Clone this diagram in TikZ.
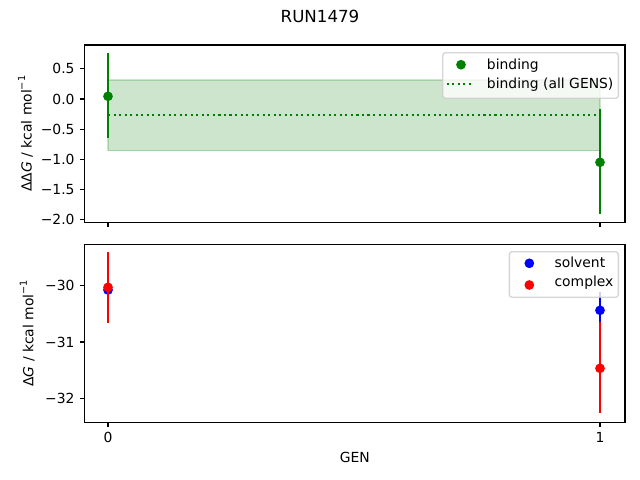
\documentclass[tikz,border=0pt]{standalone}
\usepackage{fontspec}
\setmainfont{DejaVu Sans}
\definecolor{mplgreen}{rgb}{0,0.5,0}
\definecolor{mplblue}{rgb}{0,0,1}
\definecolor{mplred}{rgb}{1,0,0}
\definecolor{legedge}{rgb}{0.8,0.8,0.8}
\newcommand{\supm}{\raisebox{0.85ex}{\fontsize{7}{8}\selectfont −1}}
\begin{document}
\begin{tikzpicture}[x=0.72pt,y=-0.72pt,
  spine/.style={line width=0.8pt, draw=black},
  tickmark/.style={line width=0.8pt},
  ticklab/.style={font=\fontsize{10}{12}\selectfont, inner sep=0pt},
  ebar/.style={line width=1.5pt},
  dot/.style={circle, inner sep=0pt, minimum size=7pt},
  legbox/.style={draw=legedge, draw opacity=0.8, fill=white, fill opacity=0.8, line width=1pt, rounded corners=2pt},
  legtext/.style={font=\fontsize{10}{12}\selectfont, inner sep=0pt, anchor=base west},
  axlab/.style={font=\fontsize{10}{12}\selectfont, inner sep=0pt},
]
\useasboundingbox[fill=white] (0,0) rectangle (640,480);

% title
\node[font=\fontsize{12}{14}\selectfont, inner sep=0pt, anchor=base] (title) at (320,22.5) {RUN1479};

% ---------- top axes ----------
\fill[mplgreen, fill opacity=0.2] (108,80) rectangle (600,150.7);
\draw[mplgreen, draw opacity=0.2, line width=1pt] (108,80) rectangle (600,150.7);
\coordinate (dl0) at (108,115);
\coordinate (dl1) at (600,115);
\draw[mplgreen, line width=1.5pt, dash pattern=on 1.5pt off 2.475pt] (dl0) -- (dl1);

\coordinate (g0t) at (108,53.3);
\coordinate (g0b) at (108,137.7);
\draw[ebar, mplgreen] (g0t) -- (g0b);
\node[dot, fill=mplgreen] (g0) at (108,96.3) {};
\coordinate (g1t) at (600,109);
\coordinate (g1b) at (600,214.3);
\draw[ebar, mplgreen] (g1t) -- (g1b);
\node[dot, fill=mplgreen] (g1) at (600,162.3) {};

\draw[spine] (84.5,45) rectangle (625,222.5);
\foreach \yy/\lab in {68.8/0.5, 99.0/0.0, 129.2/−0.5, 159.4/−1.0, 189.6/−1.5, 219.8/−2.0}{
  \draw[tickmark] (84.5,\yy) -- ++(-4.86,0);
  \node[ticklab, anchor=east] at (74.8,\yy) {\lab};
}
\foreach \xx in {108,600}{
  \draw[tickmark] (\xx,222.5) -- ++(0,4.86);
}
\node[axlab, rotate=90, anchor=base] (ylab1) at (31.7,133.75) {ΔΔ\textit{G} / kcal mol\supm};

% legend top
\node[legbox, minimum width=175.6*0.72pt, minimum height=45.6*0.72pt, inner sep=0pt] (leg1) at (530.5,75.5) {};
\node[dot, fill=mplgreen] (leg1m) at (461,64.7) {};
\coordinate (leg1a) at (446.7,84);
\coordinate (leg1b) at (474,84);
\draw[mplgreen, line width=1.5pt, dash pattern=on 1.5pt off 2.475pt] (leg1a) -- (leg1b);
\node[legtext] (leg1t1) at (486.7,69) {binding};
\node[legtext] (leg1t2) at (486.7,88.3) {binding (all GENS)};

% ---------- bottom axes ----------
\coordinate (b0t) at (108,273);
\coordinate (b0b) at (108,307);
\draw[ebar, mplblue] (b0t) -- (b0b);
\node[dot, fill=mplblue] (b0) at (108,290) {};
\coordinate (b1t) at (600,292.3);
\coordinate (b1b) at (600,328.3);
\draw[ebar, mplblue] (b1t) -- (b1b);
\node[dot, fill=mplblue] (b1) at (600,310.3) {};

\coordinate (r0t) at (108,252);
\coordinate (r0b) at (108,322.7);
\draw[ebar, mplred] (r0t) -- (r0b);
\node[dot, fill=mplred] (r0) at (108,287.3) {};
\coordinate (r1t) at (600,321.7);
\coordinate (r1b) at (600,413.3);
\draw[ebar, mplred] (r1t) -- (r1b);
\node[dot, fill=mplred] (r1) at (600,368.3) {};

\draw[spine] (84.5,244.3) rectangle (625,422.3);
\foreach \yy/\lab in {285.7/−30, 342.0/−31, 398.3/−32}{
  \draw[tickmark] (84.5,\yy) -- ++(-4.86,0);
  \node[ticklab, anchor=east] at (74.8,\yy) {\lab};
}
\foreach \xx/\lab in {108/0,600/1}{
  \draw[tickmark] (\xx,422.3) -- ++(0,4.86);
  \node[ticklab, anchor=base] at (\xx,442) {\lab};
}
\node[axlab, rotate=90, anchor=base] (ylab2) at (33.3,333.3) {Δ\textit{G} / kcal mol\supm};
\node[axlab, anchor=base] (xlab) at (354.75,462.7) {GEN};

% legend bottom
\node[legbox, minimum width=109*0.72pt, minimum height=45.6*0.72pt, inner sep=0pt] (leg2) at (563.8,274.5) {};
\node[dot, fill=mplblue] (leg2m1) at (529.3,263.3) {};
\node[dot, fill=mplred] (leg2m2) at (529.3,285) {};
\node[legtext] (leg2t1) at (554.3,267.3) {solvent};
\node[legtext] (leg2t2) at (554.3,286.6) {complex};
\end{tikzpicture}
\end{document}
